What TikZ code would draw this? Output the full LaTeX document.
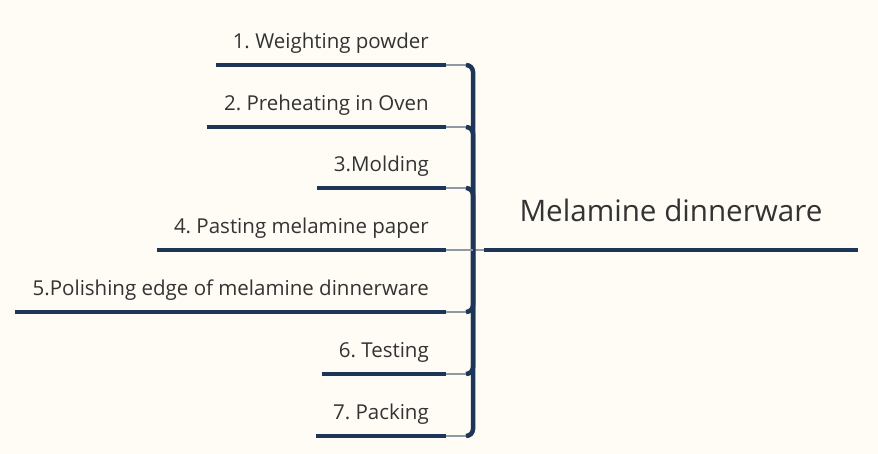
\documentclass[tikz,border=0pt]{standalone}
\usepackage{fontspec}
\setmainfont{Open Sans}
\frenchspacing
\definecolor{navy}{HTML}{1D3557}
\definecolor{linkgray}{HTML}{8F9AA6}
\definecolor{paper}{HTML}{FFFCF5}
\definecolor{ink}{HTML}{333333}

\begin{document}
\begin{tikzpicture}[
    x = 1pt,
    y = -1pt,
    branch/.style = {
      anchor = south east,
      inner xsep = 17pt,
      inner ysep = 16pt,
      text depth = 0pt,
      text = ink,
      font = \fontsize{20.5}{24}\selectfont
    },
    root/.style = {
      anchor = south,
      minimum width = 374pt,
      inner ysep = 28pt,
      text depth = 0pt,
      text = ink,
      font = \fontsize{29.6}{36}\selectfont
    },
    underline/.style = {
      navy,
      line width = 3.5pt
    },
    link/.style = {
      linkgray,
      line width = 1.2pt
    },
    spine/.style = {
      navy,
      line width = 4.5pt,
      rounded corners = 7pt
    }
  ]
  \fill[paper] (0,0) rectangle (878,454);
  \useasboundingbox (0,0) rectangle (878,454);

  \coordinate (hub) at (473,250);

  \node[root] (root) at (671,250) {Melamine dinnerware};
  \draw[underline, line width = 4pt] (root.south west) -- (root.south east);
  \draw[link] (hub) -- (root.south west);

  \node[branch] (b1) at (446,65)  {1. Weighting powder};
  \node[branch] (b2) at (446,127) {2. Preheating in Oven};
  \node[branch] (b3) at (446,188) {3.Molding};
  \node[branch] (b4) at (446,250) {4. Pasting melamine paper};
  \node[branch] (b5) at (446,312) {5.Polishing edge of melamine dinnerware};
  \node[branch] (b6) at (446,374) {6. Testing};
  \node[branch] (b7) at (446,436) {7. Packing};

  \foreach \b in {b1,b2,b3,b4,b5,b6,b7}
    \draw[underline] (\b.south west) -- (\b.south east);

  % joints where the gray links meet the spine
  \foreach \b in {b1,b2,b3,b5,b6,b7} {
    \coordinate (j\b) at ([xshift=20pt]\b.south east);
    \draw[link] (\b.south east) -- (j\b);
    \draw[spine] (hub) |- (j\b);
  }
  \draw[link] (b4.south east) -- (hub);
\end{tikzpicture}
\end{document}
